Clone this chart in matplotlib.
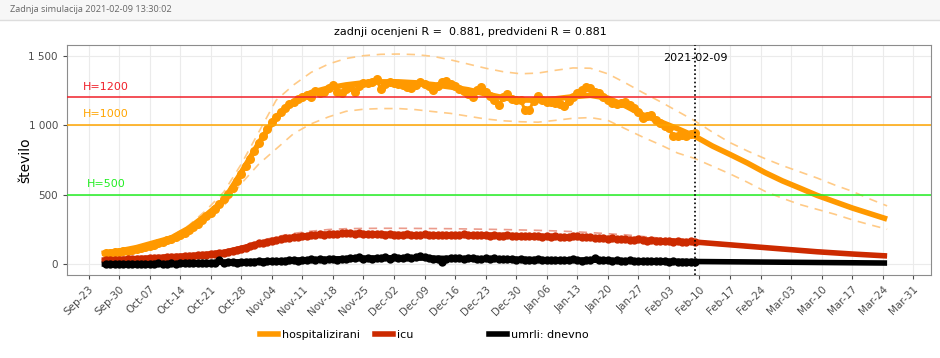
import numpy as np
import pandas as pd
import matplotlib
matplotlib.use("Agg")
import matplotlib.pyplot as plt
import matplotlib.dates as mdates
from matplotlib.lines import Line2D
from matplotlib.ticker import FuncFormatter

# observed daily values, 2020-09-27 .. 2021-02-09
hosp_obs = [
    78, 82, 86, 90, 94, 99, 104,
    110, 117, 124, 132, 140, 150, 160,
    172, 185, 198, 212, 228, 248, 270,
    292, 318, 345, 372, 400, 432, 468,
    508, 552, 600, 650, 705, 760, 815,
    870, 925, 975, 1020, 1060, 1095, 1125,
    1150, 1170, 1190, 1205, 1218, 1205, 1245,
    1230, 1241, 1265, 1289, 1238, 1234, 1262,
    1272, 1241, 1285, 1301, 1305, 1312, 1330,
    1258, 1300, 1313, 1305, 1298, 1290, 1275,
    1265, 1290, 1313, 1300, 1285, 1253, 1280,
    1310, 1320, 1300, 1285, 1260, 1245, 1225,
    1205, 1250, 1273, 1240, 1210, 1185, 1145,
    1200, 1228, 1190, 1185, 1182, 1112, 1110,
    1175, 1210, 1180, 1170, 1165, 1160, 1150,
    1140, 1175, 1205, 1230, 1255, 1278, 1265,
    1240, 1232, 1200, 1185, 1158, 1150, 1162,
    1170, 1148, 1125, 1098, 1052, 1070, 1075,
    1040, 1015, 995, 978, 922, 920, 930,
    925, 940, 946,
]
icu_obs = [
    30, 31, 33, 33, 34, 36, 37,
    38, 40, 41, 43, 45, 46, 48,
    50, 51, 54, 56, 57, 60, 62,
    65, 67, 70, 73, 77, 80, 84,
    90, 95, 102, 110, 120, 132, 142,
    150, 156, 163, 170, 176, 182, 186,
    190, 195, 198, 202, 205, 208, 212,
    215, 213, 218, 221, 218, 222, 225,
    222, 219, 223, 220, 217, 221, 218,
    215, 214, 218, 212, 210, 214, 216,
    213, 209, 212, 215, 211, 208, 213,
    210, 214, 212, 209, 211, 215, 212,
    208, 211, 213, 209, 206, 210, 207,
    205, 208, 204, 206, 203, 205, 202,
    200, 203, 199, 201, 198, 202, 199,
    196, 198, 203, 200, 197, 194, 196,
    192, 190, 187, 185, 188, 184, 180,
    182, 178, 176, 179, 174, 170, 172,
    168, 171, 167, 165, 163, 166, 162,
    160, 164, 160,
]
deaths_obs = [
    2, 0, 3, 1, 2, 4, 1,
    3, 2, 5, 3, 4, 6, 4,
    5, 7, 4, 8, 6, 9, 7,
    8, 10, 7, 12, 9, 30, 11,
    13, 15, 12, 17, 14, 18, 20,
    22, 19, 24, 21, 26, 23, 25,
    28, 31, 26, 33, 29, 35, 30,
    38, 32, 36, 40, 34, 37, 39,
    42, 45, 52, 38, 44, 40, 47,
    43, 49, 41, 50, 46, 44, 52,
    48, 55, 60, 49, 45, 40, 38,
    20, 36, 42, 47, 44, 40, 43,
    46, 41, 38, 44, 39, 42, 37,
    40, 35, 38, 33, 36, 31, 34,
    32, 36, 30, 34, 29, 33, 31,
    28, 32, 35, 30, 27, 33, 29,
    45, 31, 28, 30, 26, 29, 27,
    25, 28, 24, 27, 22, 26, 23,
    24, 21, 25, 19, 22, 18, 20,
    17, 15, 20,
]

# model curves, every 4 days from 2020-09-26 to 2021-03-25
hosp_fit = [78, 95, 120, 155, 190, 260, 355, 460, 660, 870,
            1060, 1170, 1235, 1268, 1290, 1305, 1312, 1312, 1305, 1292,
            1275, 1255, 1225, 1198, 1182, 1180, 1190, 1205, 1215, 1195,
            1140, 1075, 1025, 975, 920, 850, 790, 728, 660, 600,
            548, 495, 450, 405, 365, 325]
hosp_hi = [80, 97, 125, 162, 200, 280, 390, 520, 720, 950,
           1180, 1290, 1380, 1440, 1480, 1500, 1510, 1512, 1508, 1495,
           1470, 1440, 1410, 1385, 1370, 1375, 1395, 1412, 1410, 1370,
           1305, 1235, 1170, 1100, 1030, 950, 875, 815, 760, 710,
           665, 620, 570, 525, 470, 420]
hosp_lo = [76, 92, 115, 148, 180, 245, 325, 420, 580, 720,
           830, 940, 1010, 1060, 1100, 1115, 1120, 1120, 1112, 1098,
           1085, 1065, 1045, 1032, 1025, 1022, 1035, 1050, 1055, 1035,
           975, 915, 860, 800, 760, 705, 650, 590, 525, 475,
           430, 395, 360, 320, 285, 252]
icu_fit = [30, 35, 41, 47, 55, 62, 72, 86, 115, 148,
           175, 195, 208, 218, 222, 220, 217, 214, 212, 211,
           211, 211, 210, 208, 205, 202, 199, 195, 190, 185,
           180, 174, 169, 165, 160, 150, 140, 130, 120, 110,
           100, 90, 82, 74, 67, 60]
icu_hi = [33, 38, 44, 51, 60, 68, 80, 96, 128, 165,
          198, 222, 238, 250, 256, 258, 259, 259, 258, 257,
          256, 254, 252, 250, 247, 244, 240, 235, 228, 220,
          212, 200, 188, 180, 172, 160, 150, 140, 130, 120,
          110, 100, 91, 82, 75, 68]
icu_lo = [28, 32, 38, 43, 50, 57, 66, 78, 105, 135,
          160, 180, 194, 204, 208, 207, 204, 202, 200, 199,
          199, 199, 198, 196, 194, 191, 188, 184, 180, 175,
          170, 165, 160, 155, 150, 140, 130, 120, 110, 100,
          91, 82, 74, 67, 60, 53]
deaths_fit = [2, 3, 4, 6, 8, 10, 12, 15, 18, 22,
              25, 29, 33, 37, 41, 44, 46, 47, 46, 44,
              42, 41, 40, 38, 36, 34, 32, 31, 30, 28,
              26, 24, 22, 21, 20, 19, 18, 17, 16, 15,
              14, 13, 12, 11, 10, 9]

thresholds = [1200, 1000, 500]
threshold_labels = ["H=1200", "H=1000", "H=500"]
threshold_colors = ["#f0202a", "#ffa500", "#22ee22"]

obs_dates = pd.date_range("2020-09-27", periods=len(hosp_obs), freq="D")
fit_dates = pd.date_range("2020-09-26", periods=len(hosp_fit), freq="4D")
sim_date = pd.Timestamp("2021-02-09")

C_HOSP = "#ff9900"
C_ICU = "#cc2a00"
C_DEATH = "#000000"

fig = plt.figure(figsize=(9.4, 3.58), dpi=100)

# card header
fig.patches.append(plt.Rectangle((0, 1 - 20 / 358), 1, 20 / 358, transform=fig.transFigure,
                                 facecolor="#f7f7f7", edgecolor="none", zorder=0))
fig.lines.append(Line2D([0, 1], [1 - 20 / 358] * 2, transform=fig.transFigure, color="#dddddd", lw=1))
fig.text(10 / 940, 1 - 10 / 358, "Zadnja simulacija 2021-02-09 13:30:02", family="Open Sans",
         fontsize=6.6, color="#666666", va="center", ha="left")
fig.text(470 / 940, 1 - 32 / 358, "zadnji ocenjeni R =  0.881, predvideni R = 0.881",
         fontsize=8, color="black", ha="center", va="center")

ax = fig.add_axes([67 / 940, 1 - 275 / 358, 864 / 940, 230 / 358])

# confidence bands
ax.plot(fit_dates, hosp_hi, color="#ffc57a", lw=1.2, dashes=(5, 4), alpha=0.9, zorder=1)
ax.plot(fit_dates, hosp_lo, color="#ffc57a", lw=1.2, dashes=(5, 4), alpha=0.9, zorder=1)
ax.plot(fit_dates, icu_hi, color="#e88a78", lw=1.2, dashes=(5, 4), alpha=0.85, zorder=1)
ax.plot(fit_dates, icu_lo, color="#e88a78", lw=1.2, dashes=(5, 4), alpha=0.85, zorder=1)

# model lines
ax.plot(fit_dates, hosp_fit, color=C_HOSP, lw=4, solid_capstyle="butt", zorder=2)
ax.plot(fit_dates, icu_fit, color=C_ICU, lw=4, solid_capstyle="butt", zorder=2)
ax.plot(fit_dates, deaths_fit, color=C_DEATH, lw=4, solid_capstyle="butt", zorder=2)

# observations
ax.plot(obs_dates, hosp_obs, color=C_HOSP, lw=2.2, marker="o", ms=6.5, mew=0, zorder=3)
ax.plot(obs_dates, icu_obs, color=C_ICU, lw=2.2, marker="o", ms=6, mew=0, zorder=3)
ax.plot(obs_dates, deaths_obs, color=C_DEATH, lw=2.2, marker="o", ms=6, mew=0, zorder=3)

# thresholds
for val, lab, col in zip(thresholds, threshold_labels, threshold_colors):
    ax.axhline(val, color=col, lw=1.1, zorder=4)
    ax.text(0.045, val + 78, lab, color=col, fontsize=8, ha="center", va="center",
            transform=ax.get_yaxis_transform())

# simulation date
ax.axvline(sim_date, color="black", lw=1.2, ls=(0, (1, 1.5)), zorder=5)
ax.text(sim_date, 1480, "2021-02-09", fontsize=8, ha="center", va="center", zorder=6)

# axes
x0 = mdates.date2num(pd.Timestamp("2020-09-23"))
ax.set_xlim(x0 - 4.93, x0 + 193.06)
ax.set_ylim(-77, 1577)
ax.set_xticks(pd.date_range("2020-09-23", "2021-03-31", freq="7D"))
ax.xaxis.set_major_formatter(mdates.DateFormatter("%b-%d"))
ax.set_yticks([0, 500, 1000, 1500])
ax.yaxis.set_major_formatter(FuncFormatter(lambda v, p: f"{int(v):,}".replace(",", " ")))
ax.tick_params(axis="both", labelsize=7.5, labelcolor="#4d4d4d", color="#4d4d4d", length=3, width=0.8)
plt.setp(ax.get_xticklabels(), rotation=45, ha="right", va="top", rotation_mode="anchor")
ax.grid(True, color="#ebebeb", lw=0.8, zorder=0)
ax.set_axisbelow(True)
for s in ax.spines.values():
    s.set_color("#8c8c8c")
    s.set_linewidth(0.8)
ax.set_ylabel("število", fontsize=10)
ax.yaxis.set_label_coords(-0.04, 0.5)

handles = [
    Line2D([], [], color=C_HOSP, lw=4),
    Line2D([], [], color=C_ICU, lw=4),
    Line2D([], [], color="none", lw=4),
    Line2D([], [], color=C_DEATH, lw=4),
]
labels = ["hospitalizirani", "icu", " " * 7, "umrli: dnevno"]
fig.legend(handles, labels, loc="center", bbox_to_anchor=(0.4516, 1 - 335 / 358), ncol=4,
           frameon=False, fontsize=8, handlelength=1.6, handletextpad=0.4, columnspacing=1.3)

fig.savefig("out.png", dpi=100)
